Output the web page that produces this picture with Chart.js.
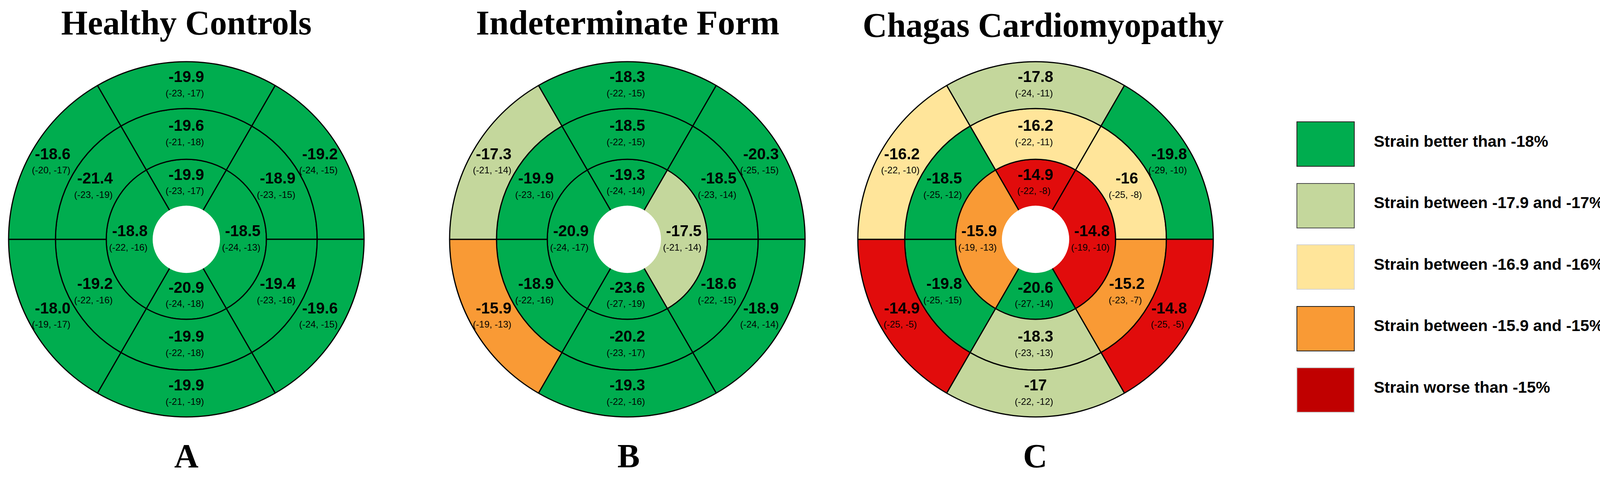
<!DOCTYPE html>
<html><head><meta charset="utf-8">
<script src="https://cdn.jsdelivr.net/npm/chart.js@4.4.1/dist/chart.umd.min.js"></script>
<style>
html,body{margin:0;padding:0;background:#fff;}
body{width:4146px;height:1227px;overflow:hidden;position:relative;}
.title{position:absolute;font-family:'Liberation Serif','Times New Roman',serif;font-weight:bold;font-size:88px;line-height:88px;white-space:nowrap;color:#000;transform-origin:center top;}
.letter{position:absolute;font-family:'Liberation Serif','Times New Roman',serif;font-weight:bold;font-size:86px;line-height:86px;white-space:nowrap;color:#000;}
.panel{position:absolute;}
.lbox{position:absolute;box-sizing:border-box;}
.ltext{position:absolute;font-family:'Liberation Sans',Arial,sans-serif;font-weight:bold;font-size:41px;line-height:42px;white-space:nowrap;color:#000;transform-origin:left top;}
</style></head>
<body>
<script>
// ---------- DATA ----------
// ring order: outer (basal) & middle ring = [top, upper-right, lower-right, bottom, lower-left, upper-left]
// inner (apical) ring = [top, right, bottom, left]
const panelTitles = ['Healthy Controls', 'Indeterminate Form', 'Chagas Cardiomyopathy'];
const panelLetters = ['A', 'B', 'C'];

// Healthy Controls
const hcOuter = ['-19.9', '-19.2', '-19.6', '-19.9', '-18.0', '-18.6'];
const hcOuterRange = [[-23, -17], [-24, -15], [-24, -15], [-21, -19], [-19, -17], [-20, -17]];
const hcOuterClass = [0, 0, 0, 0, 0, 0];
const hcMid = ['-19.6', '-18.9', '-19.4', '-19.9', '-19.2', '-21.4'];
const hcMidRange = [[-21, -18], [-23, -15], [-23, -16], [-22, -18], [-22, -16], [-23, -19]];
const hcMidClass = [0, 0, 0, 0, 0, 0];
const hcInner = ['-19.9', '-18.5', '-20.9', '-18.8'];
const hcInnerRange = [[-23, -17], [-24, -13], [-24, -18], [-22, -16]];
const hcInnerClass = [0, 0, 0, 0];

// Indeterminate Form
const ifOuter = ['-18.3', '-20.3', '-18.9', '-19.3', '-15.9', '-17.3'];
const ifOuterRange = [[-22, -15], [-25, -15], [-24, -14], [-22, -16], [-19, -13], [-21, -14]];
const ifOuterClass = [0, 0, 0, 0, 3, 1];
const ifMid = ['-18.5', '-18.5', '-18.6', '-20.2', '-18.9', '-19.9'];
const ifMidRange = [[-22, -15], [-23, -14], [-22, -15], [-23, -17], [-22, -16], [-23, -16]];
const ifMidClass = [0, 0, 0, 0, 0, 0];
const ifInner = ['-19.3', '-17.5', '-23.6', '-20.9'];
const ifInnerRange = [[-24, -14], [-21, -14], [-27, -19], [-24, -17]];
const ifInnerClass = [0, 1, 0, 0];

// Chagas Cardiomyopathy
const ccOuter = ['-17.8', '-19.8', '-14.8', '-17', '-14.9', '-16.2'];
const ccOuterRange = [[-24, -11], [-29, -10], [-25, -5], [-22, -12], [-25, -5], [-22, -10]];
const ccOuterClass = [1, 0, 4, 1, 4, 2];
const ccMid = ['-16.2', '-16', '-15.2', '-18.3', '-19.8', '-18.5'];
const ccMidRange = [[-22, -11], [-25, -8], [-23, -7], [-23, -13], [-25, -15], [-25, -12]];
const ccMidClass = [2, 2, 3, 1, 0, 0];
const ccInner = ['-14.9', '-14.8', '-20.6', '-15.9'];
const ccInnerRange = [[-22, -8], [-19, -10], [-27, -14], [-19, -13]];
const ccInnerClass = [4, 4, 0, 3];

// legend categories
const legendLabels = ['Strain better than -18%', 'Strain between -17.9 and -17%', 'Strain between -16.9 and -16%', 'Strain between -15.9 and -15%', 'Strain worse than -15%'];

// ---------- STYLE / LAYOUT ----------
const segPalette = ['#00ad4f', '#c4d79c', '#ffe59a', '#f99a35', '#e10c0c'];
const legendPalette = ['#00ad4f', '#c4d79c', '#ffe59a', '#f99a35', '#c00000'];
const legendBorder = ['#1e1e1e', '#4a4a4a', '#d2d2d2', '#1e1e1e', '#c8c8c8'];
// AHA segment structure: relative angular spans of each ring
const ringSpans = {outer: [1, 1, 1, 1, 1, 1], mid: [1, 1, 1, 1, 1, 1], inner: [1, 2, 1, 2]};
const ringWeights = {outer: 120, mid: 130, inner: 121};
const centersX = [477, 1606, 2651];
const centerY = 613;
const canvasSize = 940;
const titleCenters = [477, 1607, 2670];
const titleWidths = [641, 777, 924];
const titleTops = [15, 15, 21];
const letterCenters = [477, 1609, 2650];

const panels = [
  {rings: [[hcOuter, hcOuterRange, hcOuterClass, 'outer'], [hcMid, hcMidRange, hcMidClass, 'mid'], [hcInner, hcInnerRange, hcInnerClass, 'inner']]},
  {rings: [[ifOuter, ifOuterRange, ifOuterClass, 'outer'], [ifMid, ifMidRange, ifMidClass, 'mid'], [ifInner, ifInnerRange, ifInnerClass, 'inner']]},
  {rings: [[ccOuter, ccOuterRange, ccOuterClass, 'outer'], [ccMid, ccMidRange, ccMidClass, 'mid'], [ccInner, ccInnerRange, ccInnerClass, 'inner']]}
];

const labelPlugin = {
  id: 'segLabels',
  afterDatasetsDraw(chart) {
    const ctx = chart.ctx;
    ctx.save();
    // white apex hole (no outline)
    const lastMeta = chart.getDatasetMeta(chart.data.datasets.length - 1);
    const a0 = lastMeta.data[0].getProps(['x', 'y', 'innerRadius']);
    ctx.fillStyle = '#fff';
    ctx.beginPath();
    ctx.arc(a0.x, a0.y, a0.innerRadius + 2.2, 0, Math.PI * 2);
    ctx.fill();
    ctx.fillStyle = '#000';
    ctx.textAlign = 'center';
    ctx.textBaseline = 'middle';
    chart.data.datasets.forEach((d, i) => {
      const meta = chart.getDatasetMeta(i);
      meta.data.forEach((arc, j) => {
        const p = arc.getProps(['x', 'y', 'startAngle', 'endAngle', 'innerRadius', 'outerRadius']);
        const ang = (p.startAngle + p.endAngle) / 2;
        const r = (p.innerRadius + p.outerRadius) / 2;
        const x = p.x + r * Math.cos(ang);
        const y = p.y + r * Math.sin(ang);
        ctx.font = 'bold 40px "Liberation Sans", Arial, sans-serif';
        ctx.fillText(d.strainText[j], x, y - 19);
        ctx.font = '24px "Liberation Sans", Arial, sans-serif';
        ctx.fillText(d.rangeText[j], x - 4, y + 22);
      });
    });
    ctx.restore();
  }
};

panels.forEach((pn, k) => {
  const cv = document.createElement('canvas');
  cv.width = canvasSize; cv.height = canvasSize;
  cv.className = 'panel';
  cv.style.width = canvasSize + 'px'; cv.style.height = canvasSize + 'px';
  cv.style.left = (centersX[k] - canvasSize / 2) + 'px';
  cv.style.top = (centerY - canvasSize / 2) + 'px';
  document.body.appendChild(cv);
  const datasets = pn.rings.map(([vals, ranges, cls, ring]) => ({
    data: ringSpans[ring],
    weight: ringWeights[ring],
    backgroundColor: cls.map(c => segPalette[c]),
    borderColor: '#000',
    borderWidth: 3,
    borderAlign: 'center',
    hoverOffset: 0,
    strainText: vals,
    rangeText: ranges.map(r => '(' + r[0] + ', ' + r[1] + ')')
  }));
  new Chart(cv, {
    type: 'doughnut',
    data: {labels: ['s1', 's2', 's3', 's4', 's5', 's6'], datasets},
    options: {
      responsive: false,
      devicePixelRatio: 1,
      animation: false,
      events: [],
      rotation: -30,
      radius: 455,
      cutout: '18.46%',
      layout: {padding: 0},
      plugins: {legend: {display: false}, tooltip: {enabled: false}, title: {display: false}}
    },
    plugins: [labelPlugin]
  });

  const t = document.createElement('div');
  t.className = 'title';
  t.textContent = panelTitles[k];
  document.body.appendChild(t);
  const w = t.offsetWidth;
  t.style.left = (titleCenters[k] - w / 2) + 'px';
  t.style.top = titleTops[k] + 'px';
  t.style.transform = 'scaleX(' + (titleWidths[k] / w) + ')';

  const L = document.createElement('div');
  L.className = 'letter';
  L.textContent = panelLetters[k];
  document.body.appendChild(L);
  L.style.left = (letterCenters[k] - L.offsetWidth / 2) + 'px';
  L.style.top = '1125px';
});

// legend
const legendX = 3319, legendW = 149, legendH = 116, legendTop0 = 311, legendStep = 157.5, legendTextX = 3517, legendMaxRight = 4118;
legendLabels.forEach((lab, i) => {
  const top = legendTop0 + i * legendStep;
  const b = document.createElement('div');
  b.className = 'lbox';
  b.style.left = legendX + 'px'; b.style.top = top + 'px';
  b.style.width = legendW + 'px'; b.style.height = legendH + 'px';
  b.style.background = legendPalette[i];
  b.style.border = '2px solid ' + legendBorder[i];
  document.body.appendChild(b);
  const tx = document.createElement('div');
  tx.className = 'ltext';
  tx.textContent = lab;
  tx.style.left = legendTextX + 'px';
  tx.style.top = (top + legendH / 2 - 28.5) + 'px';
  document.body.appendChild(tx);
  const w = tx.offsetWidth;
  if (legendTextX + w > legendMaxRight) tx.style.transform = 'scaleX(' + ((legendMaxRight - legendTextX) / w) + ')';
});
</script>
</body></html>
